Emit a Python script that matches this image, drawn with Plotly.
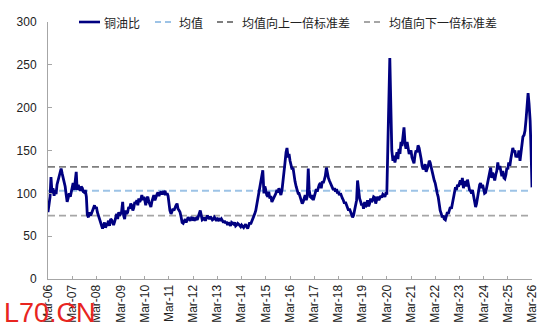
import pandas as pd
import plotly.graph_objects as go

# Copper/oil ratio, semi-monthly readings starting 2006-03-01
ratio_by_year = [
    [78, 84, 96, 119, 100, 106, 97, 104, 99, 110, 116, 122, 126, 129, 123, 118, 115, 108, 98, 90, 95, 100, 96, 103],
    [107, 112, 104, 118, 125, 104, 110, 106, 103, 108, 106, 102, 101, 104, 96, 75, 72, 78, 74, 76, 80, 84, 86, 82],
    [84, 78, 74, 70, 66, 63, 59, 62, 66, 60, 64, 65, 68, 62, 70, 69, 66, 63, 67, 72, 76, 70, 78, 74],
    [76, 78, 90, 74, 70, 80, 76, 78, 84, 82, 88, 86, 80, 83, 90, 88, 92, 86, 94, 90, 93, 98, 92, 96],
    [92, 86, 94, 96, 90, 88, 84, 90, 95, 98, 92, 96, 99, 101, 97, 100, 102, 99, 101, 100, 103, 98, 100, 97],
    [84, 80, 76, 78, 82, 80, 84, 86, 88, 82, 80, 78, 72, 66, 65, 68, 70, 66, 69, 72, 70, 68, 71, 70],
    [72, 68, 70, 71, 69, 73, 76, 80, 74, 69, 70, 72, 68, 71, 74, 72, 70, 73, 71, 69, 70, 72, 70, 68],
    [70, 69, 71, 68, 70, 68, 66, 68, 65, 67, 63, 66, 64, 62, 66, 65, 64, 66, 62, 63, 65, 64, 62, 61],
    [63, 61, 60, 62, 64, 61, 59, 62, 66, 64, 67, 69, 72, 76, 80, 86, 92, 98, 104, 112, 120, 127, 100, 108],
    [104, 98, 96, 102, 94, 97, 90, 92, 95, 98, 100, 104, 101, 106, 102, 98, 104, 112, 123, 135, 148, 153, 142, 146],
    [138, 132, 128, 130, 120, 114, 108, 104, 100, 100, 96, 92, 88, 90, 94, 98, 92, 96, 129, 104, 96, 95, 98, 92],
    [96, 100, 105, 102, 108, 110, 112, 106, 114, 112, 116, 120, 130, 122, 118, 115, 112, 110, 108, 104, 106, 102, 105, 100],
    [102, 98, 100, 96, 94, 92, 88, 90, 86, 84, 80, 82, 78, 76, 72, 74, 80, 88, 92, 115, 98, 94, 90, 86],
    [88, 82, 90, 84, 86, 92, 85, 88, 94, 90, 92, 96, 95, 88, 93, 96, 92, 94, 97, 95, 99, 98, 96, 100],
    [100, 150, 205, 258, 200, 150, 138, 144, 136, 142, 148, 140, 152, 146, 160, 155, 165, 177, 158, 152, 160, 150, 146, 148],
    [150, 142, 138, 135, 145, 150, 148, 156, 153, 144, 140, 132, 128, 130, 134, 125, 128, 132, 138, 136, 130, 124, 120, 115],
    [112, 104, 100, 96, 86, 80, 76, 72, 74, 70, 69, 72, 78, 76, 80, 84, 82, 88, 92, 98, 107, 104, 110, 108],
    [112, 115, 110, 118, 106, 114, 112, 108, 116, 110, 104, 103, 100, 104, 96, 90, 84, 88, 96, 104, 110, 112, 106, 110],
    [104, 100, 101, 106, 112, 120, 126, 130, 118, 124, 120, 115, 122, 126, 136, 128, 132, 124, 120, 126, 118, 117, 122, 130],
    [128, 136, 132, 140, 146, 153, 148, 150, 142, 145, 142, 150, 138, 148, 156, 166, 168, 173, 186, 198, 217, 205, 185, 150],
    [107],
]
ratio = [v for yr in ratio_by_year for v in yr]
dates = pd.date_range("2006-03-01", periods=len(ratio), freq="SMS")

mean_value = 103
upper_value = 131
lower_value = 74

tick_dates = pd.date_range("2006-03-01", "2026-03-01", freq="12MS")
tick_labels = ["Mar-%02d" % (d.year % 100) for d in tick_dates]
y_ticks = [0, 50, 100, 150, 200, 250, 300]

names = ["铜油比", "均值", "均值向上一倍标准差", "均值向下一倍标准差"]
colors = ["#000080", "#9DC3E6", "#7F7F7F", "#A6A6A6"]
dash_style = "7px,4px"

W, H = 550, 334
ML, MR, MT, MB = 48, 18, 22, 55
PW, PH = W - ML - MR, H - MT - MB


def px_to_paper_x(px):
    return (px - ML) / PW


def py_to_paper_y(py):
    return (H - MB - py) / PH


fig = go.Figure()
x_ends = [dates[0], dates[-1]]
for name, val, col in zip(names[1:], [mean_value, upper_value, lower_value], colors[1:]):
    fig.add_trace(go.Scatter(x=x_ends, y=[val] * 2, mode="lines", name=name, hoverinfo="skip",
                             line=dict(color=col, width=1.8, dash=dash_style)))
fig.add_trace(go.Scatter(x=dates, y=ratio, mode="lines", name=names[0],
                         line=dict(color=colors[0], width=2.8)))

# manual legend (sample line start px, text start px)
legend_y_px = 22
legend_items = [(79, 100, 102), (155, 173, 177), (217, 237, 240), (364, 382, 387)]
shapes = []
annotations = []
for i, (x0, x1, tx) in enumerate(legend_items):
    shapes.append(dict(type="line", xref="paper", yref="paper",
                       x0=px_to_paper_x(x0), x1=px_to_paper_x(x1),
                       y0=py_to_paper_y(legend_y_px), y1=py_to_paper_y(legend_y_px),
                       line=dict(color=colors[i], width=2.6 if i == 0 else 1.8,
                                 dash="solid" if i == 0 else "6px,4px")))
    annotations.append(dict(text=names[i], xref="paper", yref="paper",
                            x=px_to_paper_x(tx), y=py_to_paper_y(legend_y_px),
                            xanchor="left", yanchor="middle", showarrow=False,
                            font=dict(family="Noto Sans CJK SC", size=12, color="#222222")))
annotations.append(dict(text="L70.CN", xref="paper", yref="paper",
                        x=px_to_paper_x(2), y=py_to_paper_y(296),
                        xanchor="left", yanchor="top", showarrow=False,
                        font=dict(family="Liberation Sans", size=27, color="#E8251F")))

fig.update_layout(
    width=W, height=H,
    margin=dict(l=ML, r=MR, t=MT, b=MB, autoexpand=False),
    paper_bgcolor="white", plot_bgcolor="white",
    font=dict(family="Liberation Sans, Arial, Noto Sans CJK SC", size=12, color="#222222"),
    showlegend=False,
    xaxis=dict(type="date", range=[dates[0], dates[-1]], tickvals=list(tick_dates),
               ticktext=tick_labels, tickangle=-90, showgrid=False, zeroline=False,
               showline=True, linecolor="#A6A6A6", linewidth=1, automargin=False,
               ticks="inside", ticklen=3, tickcolor="#A6A6A6",
               tickfont=dict(size=12, color="#222222")),
    yaxis=dict(range=[0, 300], tickvals=y_ticks, showgrid=False, zeroline=False,
               showline=True, linecolor="#A6A6A6", linewidth=1, automargin=False,
               ticks="inside", ticklen=4, tickcolor="#A6A6A6", ticklabelstandoff=8,
               tickfont=dict(size=12, color="#222222")),
    shapes=shapes,
    annotations=annotations,
)

fig.write_html("out.html")
